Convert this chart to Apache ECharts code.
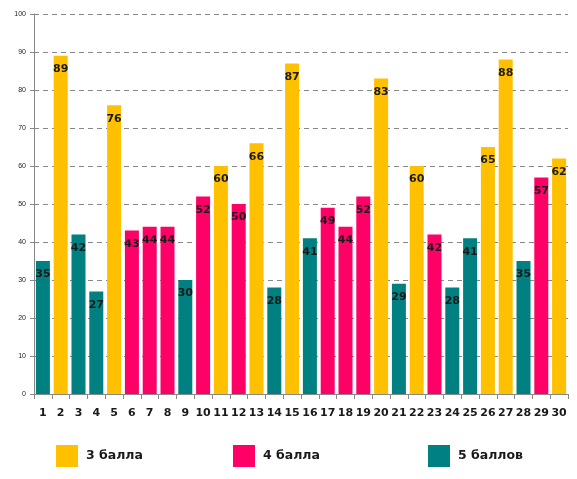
<!DOCTYPE html>
<html>
<head>
<meta charset="utf-8">
<script src="https://cdn.jsdelivr.net/npm/echarts@6/dist/echarts.min.js"></script>
<style>
  html, body { margin: 0; padding: 0; background: #fff; }
  #chart { width: 577px; height: 479px; }
</style>
</head>
<body>
<div id="chart"></div>
<script>
// номера и баллы
const categories = ['1','2','3','4','5','6','7','8','9','10','11','12','13','14','15',
  '16','17','18','19','20','21','22','23','24','25','26','27','28','29','30']
const scores = [35, 89, 42, 27, 76, 43, 44, 44, 30, 52, 60, 50, 66, 28, 87,
  41, 49, 44, 52, 83, 29, 60, 42, 28, 41, 65, 88, 35, 57, 62]
const grades = [5, 3, 5, 5, 3, 4, 4, 4, 5, 4, 3, 4, 3, 5, 3,
  5, 4, 4, 4, 3, 5, 3, 4, 5, 5, 3, 3, 5, 4, 3]
const seriesNames = ['3 балла', '4 балла', '5 баллов']
const seriesGrades = [3, 4, 5]
const colors = ['#FFC000', '#FF0066', '#008080']
const yTicks = [0, 10, 20, 30, 40, 50, 60, 70, 80, 90, 100]

const myChart = echarts.init(document.getElementById('chart'))

const labelOption = {
  show: true, position: 'insideTop', distance: 8,
  color: '#1a1a1a', fontSize: 11, fontWeight: 'bold', fontFamily: 'DejaVu Sans'
}

const series = seriesNames.map((name, i) => ({
  name: name,
  type: 'bar',
  stack: 'all',
  barWidth: 14,
  itemStyle: { color: colors[i] },
  label: labelOption,
  data: scores.map((v, k) => grades[k] === seriesGrades[i] ? v : null)
}))

const legendLefts = [56, 233, 428]
const legends = seriesNames.map((name, i) => ({
  data: [name],
  left: legendLefts[i],
  top: 445,
  padding: 0,
  icon: 'rect',
  itemWidth: 22,
  itemHeight: 22,
  selectedMode: false,
  textStyle: {
    fontSize: 12.5, fontWeight: 'bold', color: '#1a1a1a',
    fontFamily: 'DejaVu Sans', padding: [0, 0, 0, 3]
  }
}))

const option = {
  backgroundColor: '#fff',
  animation: false,
  grid: { left: 34, right: 9, top: 14, bottom: 85 },
  legend: legends,
  xAxis: {
    type: 'category',
    data: categories,
    axisLine: { lineStyle: { color: '#888' } },
    axisTick: { show: true, length: 5, lineStyle: { color: '#888' } },
    axisLabel: {
      interval: 0, margin: 14, color: '#1a1a1a',
      fontSize: 11, fontWeight: 'bold', fontFamily: 'DejaVu Sans'
    }
  },
  yAxis: {
    type: 'value',
    min: yTicks[0],
    max: yTicks[yTicks.length - 1],
    interval: 10,
    axisLine: { show: true, lineStyle: { color: '#888' } },
    axisTick: { show: true, length: 4, lineStyle: { color: '#888' } },
    axisLabel: { color: '#222', fontSize: 7, margin: 8, fontFamily: 'Liberation Sans' },
    splitLine: { lineStyle: { color: '#888', type: [5, 4] } }
  },
  series: series
}

myChart.setOption(option)
</script>
</body>
</html>
